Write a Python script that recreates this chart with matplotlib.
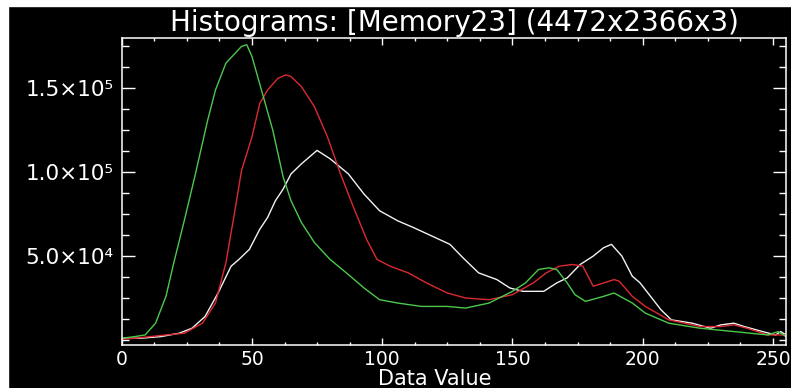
import matplotlib.pyplot as plt
import numpy as np
from matplotlib.ticker import MultipleLocator, FixedLocator, FixedFormatter
from matplotlib.patches import Rectangle

# channel histograms, counts in thousands
whiteX = [0, 7, 15, 22, 27, 32, 37, 42, 45, 49, 53, 56, 59, 62, 65, 69, 75, 80, 87, 93, 99, 106, 112, 119, 126,
          131, 137, 144, 149, 154, 162, 167, 171, 176, 181, 185, 188, 192, 196, 199, 203, 207, 211, 219, 226,
          230, 235, 239, 246, 251, 253, 255]
whiteY = [1, 1, 2, 4, 7, 14, 28, 44, 48, 54, 66, 73, 83, 90, 99, 105, 113, 108, 99, 87, 77, 71, 67, 62, 57,
          49, 40, 36, 31, 29, 29, 34, 37, 45, 50, 55, 57, 50, 38, 34, 26, 18, 12, 10, 7,
          9, 10, 8, 5, 3, 5, 3]

redX = [0, 5, 17, 24, 31, 36, 40, 43, 46, 50, 53, 56, 60, 63, 65, 69, 74, 79, 84, 89, 94, 98, 103, 110, 117,
        125, 132, 141, 150, 158, 163, 168, 173, 177, 181, 185, 189, 191, 196, 201, 210, 222, 230, 235, 240,
        248, 255]
redY = [0.5, 1, 3, 4, 10, 22, 46, 73, 101, 121, 141, 149, 156, 158, 157, 151, 139, 121, 99, 79, 60, 48, 44, 40, 34,
        28, 25, 24, 27, 34, 40, 44, 45, 44, 32, 34, 36, 35, 26, 20, 12, 8, 8, 9, 7,
        3, 3]

greenX = [0, 5, 9, 13, 17, 20, 24, 28, 33, 36, 40, 43, 46, 48, 50, 54, 58, 62, 65, 69, 74, 80, 87, 93, 99,
          106, 115, 125, 132, 141, 150, 155, 160, 164, 167, 171, 174, 178, 185, 189, 196, 201, 210, 222, 235,
          248, 252, 255]
greenY = [1, 2, 3, 10, 26, 46, 71, 97, 131, 149, 165, 170, 175, 176, 169, 147, 125, 97, 83, 70, 58, 48, 39, 31, 24,
          22, 20, 20, 19, 22, 29, 34, 42, 43, 42, 34, 27, 23, 26, 28, 22, 16, 10, 7, 5,
          3, 5, 2]

yTicks = [50000, 100000, 150000]
yLabels = ['5.0×10⁴', '1.0×10⁵', '1.5×10⁵']
xTicks = [0, 50, 100, 150, 200, 250]

titleText = 'Histograms: [Memory23] (4472x2366x3)'

W, H = 791, 388
fig = plt.figure(figsize=(W / 100, H / 100), dpi=100, facecolor='black')

# thin white frame strips along top and left edge
fig.patches.append(Rectangle((0, 1 - 6 / H), 1, 6 / H, transform=fig.transFigure, color='white', zorder=-1))
fig.patches.append(Rectangle((0, 0), 8 / W, 1, transform=fig.transFigure, color='white', zorder=-1))

axTop, axBottom = 38, 345
ax = fig.add_axes([121.7 / W, 1 - axBottom / H, (786 - 121.7) / W, (axBottom - axTop) / H])
ax.set_facecolor('black')

for xs, ys, c in [(whiteX, whiteY, '#f2f2f2'), (redX, redY, '#dc2a32'), (greenX, greenY, '#4cc84c')]:
    ax.plot(xs, np.array(ys) * 1000, color=c, lw=1.0)

ax.set_xlim(0, 255)
ax.set_ylim(-3000, 180000)

for s in ax.spines.values():
    s.set_color('white')
    s.set_linewidth(1.1)

ax.xaxis.set_major_locator(FixedLocator(xTicks))
ax.xaxis.set_minor_locator(MultipleLocator(12.5))
ax.yaxis.set_major_locator(FixedLocator(yTicks))
ax.yaxis.set_major_formatter(FixedFormatter(yLabels))
ax.yaxis.set_minor_locator(MultipleLocator(12500))

ax.tick_params(axis='x', which='major', direction='in', length=4.7, width=1.0, color='white',
               top=True, bottom=True, labelcolor='white', labelsize=13.5, pad=3.5)
ax.tick_params(axis='x', which='minor', direction='in', length=2.5, width=1.0, color='white',
               top=True, bottom=True)
ax.tick_params(axis='y', which='major', direction='in', length=9.4, width=1.0, color='white',
               left=True, right=True, labelcolor='white', labelsize=15.5, pad=6)
ax.tick_params(axis='y', which='minor', direction='in', length=4.7, width=1.0, color='white',
               left=True, right=True)

ax.set_xlabel('Data Value', color='white', fontsize=15, va='baseline')
ax.xaxis.set_label_coords(0.4707, -(385 - axBottom) / (axBottom - axTop))
fig.text(454 / W, 1 - 31 / H, titleText, color='white', fontsize=20, ha='center', va='baseline')

fig.savefig('out.png', dpi=100, facecolor='black')
